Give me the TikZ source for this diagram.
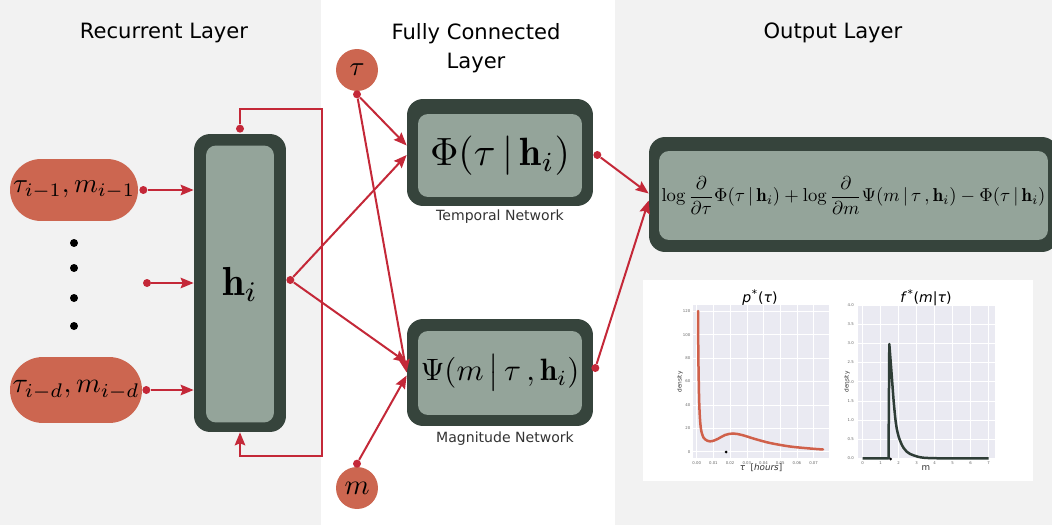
\documentclass[tikz,border=0pt]{standalone}
\usepackage{graphicx}
\usepackage{amsmath}
\usepackage{fontspec}
\newfontfamily\djv{DejaVu Sans}
\usetikzlibrary{arrows.meta,shapes.misc,calc}
\definecolor{redc}{HTML}{C42838}
\definecolor{orangec}{HTML}{CC6650}
\definecolor{darkc}{HTML}{36443C}
\definecolor{innerc}{HTML}{94A49A}
\definecolor{bgc}{HTML}{F2F2F2}
\definecolor{axbg}{HTML}{EAEAF2}
\definecolor{subc}{HTML}{333333}
\definecolor{curveone}{HTML}{D0604A}
\definecolor{curvetwo}{HTML}{2E3D36}
\definecolor{tickc}{HTML}{666666}
\begin{document}
\begin{tikzpicture}[x=0.02cm,y=-0.02cm,
  conn/.style={draw=redc, line width=0.04cm, -{Stealth[length=0.26cm,width=0.21cm,inset=0.04cm]}},
  dotc/.style={circle, fill=redc, inner sep=0pt, minimum size=0.16cm},
  bigdot/.style={circle, fill=black, inner sep=0pt, minimum size=0.16cm},
  outerbox/.style={rectangle, rounded corners=0.32cm, fill=darkc, inner sep=0pt},
  innerbox/.style={rectangle, rounded corners=0.2cm, fill=innerc, inner sep=0pt},
  pill/.style={rounded rectangle, fill=orangec, inner sep=0pt},
  circ/.style={circle, fill=orangec, inner sep=0pt, minimum size=0.84cm},
  title/.style={font=\djv\fontsize{12}{16.5}\selectfont, text=black, align=center},
  sub/.style={font=\djv\fontsize{8}{10}\selectfont, text=subc},
  gridl/.style={draw=white, line width=0.012cm},
  tick/.style={font=\djv\fontsize{2.2}{2.5}\selectfont, text=tickc, inner sep=0.5pt},
  ptitle/.style={font=\djv\fontsize{8}{9}\selectfont, text=black, inner sep=0pt},
  plabel/.style={font=\djv\fontsize{5}{6}\selectfont, text=subc, inner sep=0pt},
  ylab/.style={font=\djv\fontsize{3.3}{4}\selectfont, text=subc, inner sep=0pt, rotate=90},
]
\useasboundingbox (0,0) rectangle (1052,527);
\clip (0,0) rectangle (1052,527);
% panels
\fill[white] (0,0) rectangle (1052,527);
\fill[bgc] (0,0) rectangle (321,525);
\fill[bgc] (615,0) rectangle (1052,525);

% titles
\node[title] (t1) at (164,33) {Recurrent Layer};
\node[title] (t2) at (476,48) {Fully Connected\\Layer};
\node[title] (t3) at (833,33) {Output Layer};

% recurrent layer
\node[outerbox, minimum width=1.84cm, minimum height=5.96cm] (h) at (240,283) {};
\node[innerbox, minimum width=1.36cm, minimum height=5.54cm] (hin) at (240,284) {\resizebox{0.72cm}{!}{$\mathbf{h}_i$}};

\node[pill, minimum width=2.56cm, minimum height=1.24cm] (p1) at (74,190) {\resizebox{2.44cm}{!}{$\tau_{i-1},m_{i-1}$}};
\node[pill, minimum width=2.64cm, minimum height=1.32cm] (p2) at (76,390) {\resizebox{2.54cm}{!}{$\tau_{i-d},m_{i-d}$}};

\node[bigdot] (e1) at (74,243) {};
\node[bigdot] (e2) at (74,268) {};
\node[bigdot] (e3) at (74,298) {};
\node[bigdot] (e4) at (74,326) {};

\node[dotc] (d1) at ([xshift=0.1cm]p1.east) {};
\node[dotc] (d2) at (147,283) {};
\node[dotc] (d3) at ([xshift=0.08cm]p2.east) {};
\draw[conn] (d1) -- (d1 -| h.west);
\draw[conn] (d2) -- (d2 -| h.west);
\draw[conn] (d3) -- (d3 -| h.west);

\node[dotc] (dtop) at ([yshift=0.1cm]h.north) {};
\coordinate (lr) at (322,109);
\coordinate (lb) at (322,456);
\draw[conn] (dtop) |- (lr) -- (lb) -| (h.south);

% fully connected layer
\node[outerbox, minimum width=3.72cm, minimum height=2.14cm] (Phi) at (500,152.5) {};
\node[innerbox, minimum width=3.28cm, minimum height=1.66cm] (Phiin) at (500,155.5) {\resizebox{2.8cm}{!}{$\Phi(\tau\,|\,\mathbf{h}_i)$}};
\node[sub] (tl) at (500,217) {Temporal Network};

\node[outerbox, minimum width=3.72cm, minimum height=2.14cm] (Psi) at (500,372.5) {};
\node[innerbox, minimum width=3.28cm, minimum height=1.68cm] (Psiin) at (500,373) {\resizebox{3.18cm}{!}{$\Psi(m\,\big|\,\tau\,,\mathbf{h}_i)$}};
\node[sub] (ml) at (505,439) {Magnitude Network};

\node[circ] (tau) at (357,70) {\resizebox{0.3cm}{!}{$\tau$}};
\node[circ] (m) at (357,488) {\resizebox{0.5cm}{!}{$m$}};

\node[dotc] (dh) at ([xshift=0.08cm,yshift=0.06cm]h.east) {};
\node[dotc] (dt) at ([yshift=-0.06cm]tau.south) {};
\node[dotc] (dm) at ([yshift=0.06cm]m.north) {};

\draw[conn] (dh) -- ([yshift=-0.05cm]Phi.west);
\draw[conn] (dh) -- ([yshift=0.2cm]Psi.west);
\draw[conn] (dt) -- ([yshift=0.14cm]Phi.west);
\draw[conn] (dt) -- (Psi.west);
\draw[conn] (dm) -- ([yshift=-0.06cm]Psi.west);

% output layer
\node[outerbox, minimum width=8.18cm, minimum height=2.3cm] (out) at (853.5,194.5) {};
\node[innerbox, minimum width=7.78cm, minimum height=1.78cm] (outin) at (853.5,195.5) {\resizebox{7.68cm}{!}{$\displaystyle \log\frac{\partial}{\partial\tau}\Phi(\tau\,|\,\mathbf{h}_i)+\log\frac{\partial}{\partial m}\Psi(m\,|\,\tau\,,\mathbf{h}_i)-\Phi(\tau\,|\,\mathbf{h}_i)$}};

\node[dotc] (dp) at ([xshift=0.08cm,yshift=-0.05cm]Phi.east) {};
\node[dotc] (dq) at ([xshift=0.04cm,yshift=0.09cm]Psi.east) {};
\draw[conn] (dp) -- ([yshift=0.02cm]out.west);
\draw[conn] (dq) -- ([yshift=-0.12cm]out.west);

% plots panel
\fill[white] (643,280) rectangle (1033,481);

% plot 1
\fill[axbg] (693,305) rectangle (829,458);
\foreach \v in {0,20,...,120} {
  \draw[gridl] (693,{451.7-1.17*\v}) -- (829,{451.7-1.17*\v});
  \node[tick, anchor=east] at (691.5,{451.7-1.17*\v}) {\v};
}
\foreach \i/\l in {0/0.00,1/0.01,2/0.02,3/0.03,4/0.04,5/0.05,6/0.06,7/0.07} {
  \draw[gridl] ({696.7+16.7*\i},305) -- ({696.7+16.7*\i},458);
  \node[tick] at ({696.7+16.7*\i},462.7) {\l};
}
\draw[curveone, line width=0.05cm, line cap=round] plot[smooth, tension=0.5] coordinates {(698,311) (698.4,360) (699.3,405) (700.8,428) (703.5,437.5) (707.5,440.8) (712,441.2) (718,438.8) (725,435) (733,433.5) (742,435) (755,439) (770,443) (790,446.5) (810,448.5) (823,449.5)};
\fill[black] (726,452) circle (0.03cm);
\node[ptitle] (pt1) at (760,298) {{\itshape p}\kern0.3pt\textsuperscript{*}({\itshape τ})};
\node[plabel] (px1) at (761,468) {{\itshape τ}\ \ [{\itshape hours}]};
\node[ylab] (py1) at (680,382) {density};

% plot 2
\fill[axbg] (858,305) rectangle (995,458);
\foreach \v/\l in {0/0.0,0.5/0.5,1/1.0,1.5/1.5,2/2.0,2.5/2.5,3/3.0,3.5/3.5,4/4.0} {
  \draw[gridl] (858,{458.3-38.33*\v}) -- (995,{458.3-38.33*\v});
  \node[tick, anchor=east] at (855,{458.3-38.33*\v}) {\l};
}
\foreach \i in {0,...,7} {
  \draw[gridl] ({862.7+18*\i},305) -- ({862.7+18*\i},458);
  \node[tick] at ({862.7+18*\i},462.7) {\i};
}
\draw[curvetwo, line width=0.05cm, line join=round] (862.7,458.3) -- (888.5,458.3) -- (889.3,344) -- plot[smooth, tension=0.6] coordinates {(889.3,344) (891.7,375) (894,405) (896.7,428.3) (901,443) (906.7,451.7) (914,455.5) (923.3,457.7) (940,458.3)} -- (988.7,458.3);
\fill[black] (890.7,459) circle (0.03cm);
\node[ptitle] (pt2) at (926,298) {{\itshape f}\kern1.2pt\textsuperscript{*}({\itshape m}|{\itshape τ})};
\node[plabel] (px2) at (926,468) {m};
\node[ylab] (py2) at (847,382) {density};
\end{tikzpicture}
\end{document}
